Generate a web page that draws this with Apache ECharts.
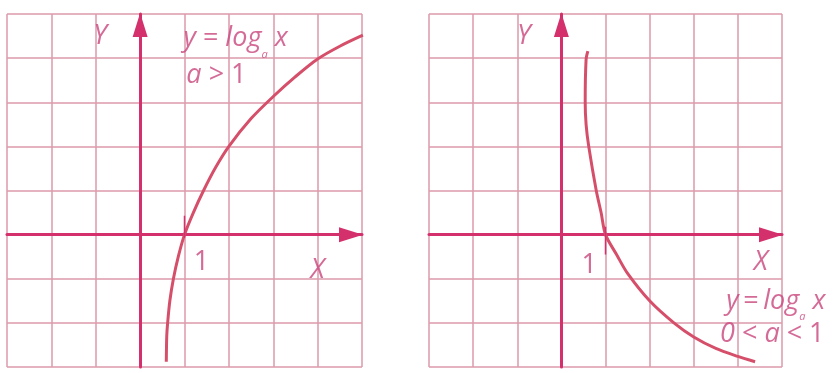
<!DOCTYPE html>
<html>
<head>
<meta charset="utf-8">
<script src="https://cdn.jsdelivr.net/npm/echarts@6/dist/echarts.min.js"></script>
<style>
  html, body { margin: 0; padding: 0; background: #fff; }
  #chart { width: 837px; height: 373px; }
</style>
</head>
<body>
<div id="chart"></div>
<script>
// curve, [x, y] in grid units
var growCurve = [
  [0.59, -2.88], [0.60, -2.3], [0.62, -2.0], [0.67, -1.5], [0.75, -1.0],
  [0.86, -0.5], [1.0, 0], [1.2, 0.5], [1.43, 1.0], [1.7, 1.52],
  [2.0, 2.0], [2.5, 2.63], [3.0, 3.13], [3.5, 3.58], [4.0, 3.98],
  [4.5, 4.27], [5.02, 4.52]
];
var decayCurve = [
  [0.60, 4.16], [0.56, 3.97], [0.54, 3.0], [0.56, 2.5], [0.62, 2.0],
  [0.79, 1.0], [0.9, 0.5], [1.0, 0], [1.25, -0.45], [1.5, -0.88],
  [2.0, -1.5], [2.55, -2.0], [3.0, -2.32], [3.5, -2.58], [4.0, -2.76],
  [4.39, -2.88]
];
// small tick mark at x = 1
var growTick = [[1, 0.43], [1, -0.07]];
var decayTick = [[1, 0.18], [1, -0.45]];

// axis range (same for both panels)
var xRange = [-3, 5];
var yRange = [-3, 5];

// text anchors in grid units
var growLabels = [
  { value: [-0.9, 4.5], text: '{i|Y}' },
  { value: [2.15, 4.45], text: '{i|y}{t| = }{i|log}{s|a}{i| x}' },
  { value: [1.72, 3.6], text: '{i|a}{t| > 1}' },
  { value: [1.38, -0.62], text: '{t|1}' },
  { value: [4.0, -0.8], text: '{i|X}' }
];
var decayLabels = [
  { value: [-0.85, 4.5], text: '{i|Y}' },
  { value: [0.63, -0.7], text: '{t|1}' },
  { value: [4.52, -0.62], text: '{i|X}' },
  { value: [4.86, -1.5], text: '{i|y}{t|\u2009=\u2009}{i|log}{s|a}{i| x}' },
  { value: [4.78, -2.27], text: '{i|0}{t| < }{i|a}{t| < 1}' }
];

var axisColor = '#d3306c';
var curveColor = '#d64f6a';
var gridColor = '#dc9aab';
var textColor = '#c9467d';

var rich = {
  i: { fontFamily: 'Open Sans', fontStyle: 'italic', fontSize: 27, color: textColor, lineHeight: 44 },
  t: { fontFamily: 'Open Sans', fontSize: 27, color: textColor, lineHeight: 44 },
  s: { fontFamily: 'Open Sans', fontStyle: 'italic', fontSize: 11, color: textColor, verticalAlign: 'bottom', lineHeight: 12 }
};

function axisFor(idx) {
  return {
    type: 'value', gridIndex: idx, interval: 1,
    axisLine: {
      onZero: true,
      lineStyle: { color: axisColor, width: 3 },
      symbol: ['none', 'triangle'], symbolSize: [15, 24], symbolOffset: [0, -11]
    },
    axisTick: { show: false },
    axisLabel: { show: false },
    splitLine: { show: true, lineStyle: { color: gridColor, width: 1.5 } }
  };
}
function xAxisFor(idx) {
  var a = axisFor(idx);
  a.min = xRange[0]; a.max = xRange[1];
  return a;
}
function yAxisFor(idx) {
  var a = axisFor(idx);
  a.min = yRange[0]; a.max = yRange[1];
  return a;
}
function curveSeries(idx, data) {
  return {
    type: 'line', xAxisIndex: idx, yAxisIndex: idx, data: data,
    smooth: 0.3, showSymbol: false, silent: true, z: 3,
    lineStyle: { color: curveColor, width: 3 }
  };
}
function tickSeries(idx, data) {
  return {
    type: 'line', xAxisIndex: idx, yAxisIndex: idx, data: data,
    showSymbol: false, silent: true, z: 4,
    lineStyle: { color: axisColor, width: 1.5 }
  };
}
function labelSeries(idx, list) {
  return {
    type: 'scatter', xAxisIndex: idx, yAxisIndex: idx, symbolSize: 0, silent: true, z: 5,
    data: list.map(function (d) { return { value: d.value, text: d.text }; }),
    label: {
      show: true, position: 'inside',
      formatter: function (p) { return p.data.text; },
      rich: rich
    }
  };
}

var chart = echarts.init(document.getElementById('chart'));
chart.setOption({
  animation: false,
  backgroundColor: '#ffffff',
  grid: [
    { left: 7, top: 14, width: 355, height: 353 },
    { left: 429, top: 14, width: 353, height: 353 }
  ],
  xAxis: [xAxisFor(0), xAxisFor(1)],
  yAxis: [yAxisFor(0), yAxisFor(1)],
  series: [
    curveSeries(0, growCurve),
    curveSeries(1, decayCurve),
    tickSeries(0, growTick),
    tickSeries(1, decayTick),
    labelSeries(0, growLabels),
    labelSeries(1, decayLabels)
  ]
});
</script>
</body>
</html>
